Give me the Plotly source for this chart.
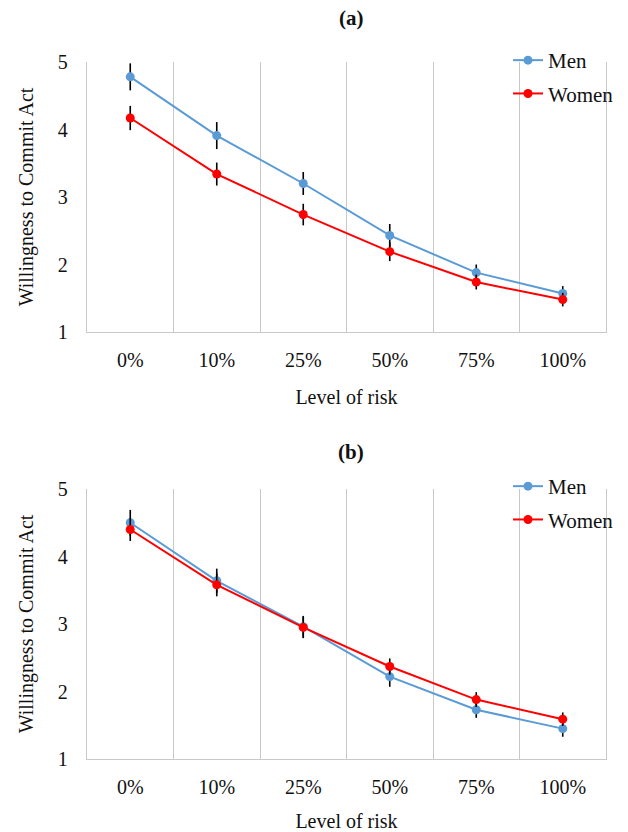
import plotly.graph_objects as go
from plotly.subplots import make_subplots

categories = ["0%", "10%", "25%", "50%", "75%", "100%"]
series_names = ["Men", "Women"]

a_men = [4.78, 3.91, 3.20, 2.43, 1.88, 1.57]
a_men_err = [0.20, 0.20, 0.17, 0.17, 0.12, 0.11]
a_women = [4.17, 3.34, 2.74, 2.19, 1.74, 1.48]
a_women_err = [0.18, 0.17, 0.16, 0.14, 0.11, 0.10]

b_men = [4.50, 3.64, 2.96, 2.22, 1.73, 1.45]
b_men_err = [0.19, 0.18, 0.16, 0.15, 0.12, 0.12]
b_women = [4.40, 3.58, 2.95, 2.37, 1.88, 1.59]
b_women_err = [0.17, 0.17, 0.16, 0.12, 0.11, 0.10]

y_ticks = [1, 2, 3, 4, 5]
panel_titles = ["(a)", "(b)"]
x_title = "Level of risk"
y_title = "Willingness to Commit Act"

FONT = "Liberation Serif"
BLUE = "#5B9BD5"
RED = "#FF0000"
GRID = "#C9C9C9"
TXT = "#111111"

W, H = 628, 832
ML, MR, MT, MB = 87, 22, 62, 73
plot_h = H - MT - MB
plot_w = W - ML - MR

def py(pix):
    return (H - MB - pix) / plot_h

def px(pix):
    return (pix - ML) / plot_w

fig = make_subplots(rows=2, cols=1, vertical_spacing=0.0)

xs = list(range(len(categories)))
panels = [
    (1, [(a_men, a_men_err, BLUE), (a_women, a_women_err, RED)], "legend"),
    (2, [(b_men, b_men_err, BLUE), (b_women, b_women_err, RED)], "legend2"),
]

for row, series, leg in panels:
    for name, (vals, errs, col) in zip(series_names, series):
        fig.add_trace(
            go.Scatter(
                x=xs, y=vals, name=name, mode="lines+markers",
                line=dict(color=col, width=2),
                marker=dict(color=col, size=9),
                error_y=dict(type="data", array=errs, visible=True,
                             color="black", thickness=1.6, width=0),
                legend=leg, legendgroup=name + leg,
            ),
            row=row, col=1,
        )

domains = [(py(332), py(62)), (py(759), py(489))]
for i, (d0, d1) in enumerate(domains, start=1):
    fig.update_yaxes(
        domain=[d0, d1], range=[1, 5], tickvals=y_ticks,
        showgrid=False, zeroline=False, showline=True, mirror=True,
        linecolor=GRID, linewidth=1.3, ticks="", ticklabelstandoff=14,
        tickfont=dict(family=FONT, size=20, color=TXT),
        title=dict(text=y_title, font=dict(family=FONT, size=20, color=TXT), standoff=18),
        row=i, col=1,
    )
    fig.update_xaxes(
        range=[-0.5, len(categories) - 0.5],
        tickmode="array", tickvals=xs, ticktext=categories,
        showgrid=False, zeroline=False, showline=True, linecolor=GRID, linewidth=1.3,
        ticks="", ticklabelstandoff=10,
        minor=dict(tickmode="array", tickvals=[x - 0.5 for x in xs] + [len(xs) - 0.5],
                   showgrid=True, gridcolor=GRID, gridwidth=1.3, ticks=""),
        tickfont=dict(family=FONT, size=20, color=TXT),
        title=dict(text=x_title, font=dict(family=FONT, size=20, color=TXT), standoff=19),
        row=i, col=1,
    )

for txt, ypix in zip(panel_titles, [18, 452]):
    fig.add_annotation(
        text="<b>%s</b>" % txt, xref="paper", yref="paper",
        x=px(351), y=py(ypix), xanchor="center", yanchor="middle",
        showarrow=False, font=dict(family=FONT, size=21, color=TXT),
    )

legend_common = dict(
    xanchor="left", yanchor="top", bgcolor="rgba(0,0,0,0)",
    font=dict(family=FONT, size=21, color=TXT),
    tracegroupgap=3, itemwidth=30, traceorder="grouped",
)
fig.update_layout(
    width=W, height=H,
    margin=dict(l=ML, r=MR, t=MT, b=MB, autoexpand=False),
    paper_bgcolor="white", plot_bgcolor="white",
    showlegend=True, hovermode=False,
    legend=dict(x=px(508), y=py(40), **legend_common),
    legend2=dict(x=px(508), y=py(466), **legend_common),
)

fig.write_html(
    "out.html",
    config={"displayModeBar": False},
    post_script="document.body.style.margin='0px';document.body.style.overflow='hidden';",
)
